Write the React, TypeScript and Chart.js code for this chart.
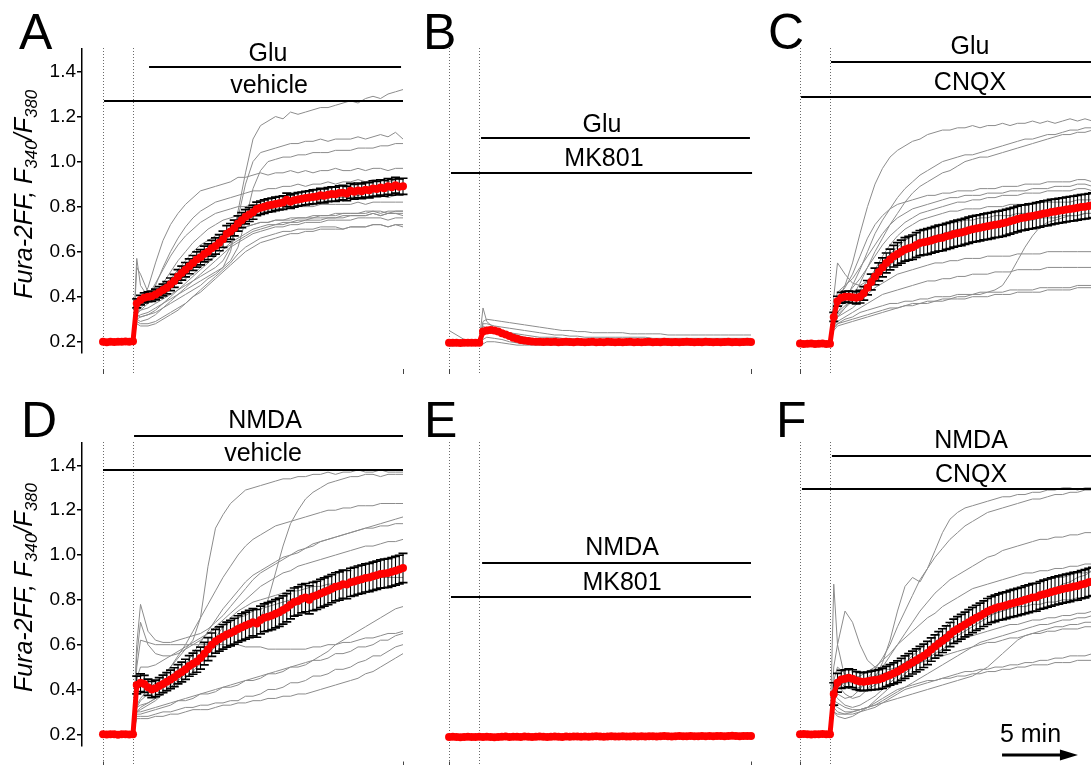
import React, { useEffect, useRef } from "react";
import { Chart, registerables } from "chart.js";
Chart.register(...registerables);

const FONT = '"Liberation Sans", Arial, Helvetica, sans-serif';
const RED = "#ff0000";
const GRAY = "#8c8c8c";

// time of the mean samples (min)
const TM = [0,.25,.5,.75,1,1.25,1.5,1.75,2,
  2.25,2.5,2.75,3,3.25,3.5,3.75,4,4.25,
  4.5,4.75,5,5.25,5.5,5.75,6,6.25,6.5,
  6.75,7,7.25,7.5,7.75,8,8.25,8.5,8.75,
  9,9.25,9.5,9.75,10,10.25,10.5,10.75,11,
  11.25,11.5,11.75,12,12.25,12.5,12.75,13,13.25,
  13.5,13.75,14,14.25,14.5,14.75,15,15.25,15.5,
  15.75,16,16.25,16.5,16.75,17,17.25,17.5,17.75,
  18,18.25,18.5,18.75,19,19.25,19.5,19.75,20];

// time of the single-cell trace samples (min)
const TG = [0,1,2,2.25,2.5,3,3.5,4,4.5,5, 5.5,6,6.5,7,7.5,8,8.5,9,9.5,10, 10.5,11,11.5,12,12.5,13,13.5,14,14.5,15, 15.5,16,16.5,17,17.5,18,18.5,19,19.5,20];

const Y_TICKS = [0.2, 0.4, 0.6, 0.8, 1.0, 1.2, 1.4];

// ---------- Panel A : Glu + vehicle ----------
const A_MEAN = [.2,.198,.2,.199,.2,.2,.201,.2,.202,
  .37,.385,.395,.4,.402,.41,.42,.43,.44,
  .455,.47,.49,.505,.52,.535,.55,.565,.575,
  .59,.6,.615,.625,.64,.655,.68,.69,.705,
  .725,.74,.755,.765,.775,.79,.795,.8,.805,
  .808,.812,.815,.818,.83,.822,.828,.832,.835,
  .838,.84,.843,.845,.85,.848,.853,.856,.855,
  .86,.862,.858,.87,.866,.872,.868,.875,.873,
  .88,.878,.885,.882,.89,.886,.895,.888,.89];
const A_SEM = [.003,.003,.003,.003,.003,.003,.003,.003,.003,
  .02,.021,.022,.022,.023,.024,.025,.026,.027,
  .028,.029,.03,.031,.032,.033,.033,.034,.034,
  .035,.035,.035,.036,.036,.036,.036,.035,.035,
  .034,.033,.032,.031,.031,.03,.03,.03,.03,
  .03,.03,.03,.03,.03,.03,.03,.03,.03,
  .03,.03,.031,.031,.031,.031,.031,.032,.032,
  .032,.032,.032,.033,.033,.033,.033,.033,.034,
  .034,.034,.034,.035,.035,.035,.035,.035,.036];
const A_TRACES = [
  [.2,.2,.21,.33,.34,.35,.37,.39,.41,.43, .45,.47,.49,.51,.53,.56,.62,.78,.95,1.1, 1.16,1.18,1.2,1.19,1.22,1.21,1.22,1.23,1.24,1.24, 1.25,1.26,1.27,1.26,1.28,1.29,1.28,1.3,1.31,1.32],
  [.2,.2,.2,.3,.31,.32,.33,.35,.37,.39, .41,.43,.45,.48,.5,.53,.6,.75,.9,1.0, 1.04,1.05,1.06,1.07,1.08,1.08,1.09,1.09,1.1,1.09, 1.1,1.1,1.1,1.11,1.1,1.11,1.12,1.11,1.13,1.1],
  [.2,.2,.2,.31,.32,.33,.35,.37,.39,.41, .43,.45,.47,.49,.51,.53,.56,.62,.74,.88, .96,1.0,1.01,1.02,1.02,1.03,1.03,1.04,1.04,1.04, 1.05,1.05,1.05,1.06,1.06,1.06,1.07,1.07,1.08,1.08],
  [.2,.2,.2,.36,.38,.44,.55,.65,.72,.77, .81,.84,.87,.88,.89,.9,.91,.93,.93,.94, .95,.94,.95,.95,.96,.95,.96,.95,.96,.96, .97,.96,.96,.97,.96,.97,.97,.96,.97,.97],
  [.2,.2,.2,.33,.35,.38,.45,.53,.6,.66, .71,.75,.78,.8,.82,.83,.84,.85,.86,.87, .87,.88,.88,.89,.89,.9,.89,.9,.9,.91, .9,.91,.91,.92,.91,.92,.92,.91,.92,.92],
  [.2,.2,.2,.34,.36,.4,.46,.52,.58,.63, .67,.7,.73,.75,.77,.78,.79,.8,.8,.81, .81,.82,.82,.82,.83,.82,.83,.83,.83,.84, .84,.84,.84,.85,.84,.85,.85,.84,.85,.85],
  [.2,.2,.2,.32,.34,.37,.41,.46,.51,.56, .6,.64,.67,.7,.72,.74,.75,.76,.77,.78, .78,.79,.79,.79,.8,.8,.8,.8,.81,.81, .81,.81,.81,.82,.81,.82,.82,.82,.82,.82],
  [.2,.21,.21,.57,.45,.4,.42,.45,.48,.52, .56,.6,.63,.65,.67,.68,.69,.7,.71,.72, .73,.73,.74,.74,.75,.75,.75,.76,.76,.76, .77,.77,.77,.77,.78,.78,.78,.77,.78,.78],
  [.2,.2,.2,.53,.5,.42,.41,.42,.44,.46, .48,.5,.53,.56,.58,.61,.63,.65,.67,.69, .7,.71,.72,.72,.73,.73,.74,.74,.74,.75, .75,.75,.76,.76,.76,.77,.76,.77,.77,.77],
  [.2,.19,.19,.28,.27,.27,.28,.3,.32,.34, .37,.4,.43,.46,.49,.52,.55,.59,.62,.64, .66,.67,.68,.69,.69,.7,.7,.7,.71,.71, .71,.7,.71,.71,.71,.72,.72,.71,.72,.71],
  [.2,.2,.2,.3,.29,.3,.32,.35,.38,.41, .44,.47,.5,.53,.56,.59,.62,.64,.66,.68, .69,.7,.71,.71,.72,.72,.73,.73,.73,.74, .74,.74,.74,.75,.75,.75,.75,.74,.75,.75],
  [.2,.2,.2,.32,.31,.32,.34,.37,.4,.43, .46,.49,.52,.55,.58,.61,.64,.66,.68,.7, .71,.72,.72,.73,.73,.74,.74,.75,.75,.75, .75,.76,.76,.76,.76,.77,.76,.77,.77,.76],
  [.21,.2,.2,.35,.37,.38,.4,.42,.45,.48, .52,.55,.58,.61,.63,.66,.68,.7,.71,.72, .73,.73,.74,.74,.74,.75,.75,.75,.76,.76, .76,.77,.77,.77,.77,.78,.77,.78,.78,.78],
  [.2,.2,.2,.29,.28,.28,.29,.31,.33,.35, .37,.4,.42,.45,.48,.51,.54,.57,.6,.62, .64,.65,.66,.67,.68,.68,.69,.69,.7,.7, .7,.7,.71,.71,.71,.72,.72,.71,.72,.72],
];

// ---------- Panel B : Glu + MK801 ----------
const B_MEAN = [.195,.196,.195,.194,.195,.196,.195,.195,.196,
  .245,.25,.252,.25,.245,.238,.232,.225,.218,
  .213,.208,.205,.203,.201,.2,.2,.199,.2,
  .199,.2,.198,.199,.2,.199,.198,.2,.199,
  .198,.199,.2,.198,.199,.198,.2,.199,.198,
  .199,.198,.199,.2,.198,.199,.198,.199,.2,
  .198,.199,.198,.2,.199,.198,.199,.198,.199,
  .2,.199,.198,.199,.198,.2,.199,.198,.199,
  .198,.199,.2,.198,.199,.198,.199,.2,.199];
const B_TRACES = [
  [.2,.2,.2,.35,.29,.26,.25,.24,.235,.23, .225,.22,.22,.22,.215,.215,.21,.21,.21,.21, .21,.21,.21,.21,.21,.21,.21,.21,.21,.21, .21,.21,.21,.21,.21,.21,.21,.21,.21,.21],
  [.25,.21,.2,.29,.3,.295,.29,.285,.28,.275, .27,.265,.26,.255,.25,.25,.245,.245,.24,.24, .24,.24,.24,.235,.235,.235,.235,.235,.23,.23, .23,.23,.23,.23,.23,.23,.23,.23,.23,.23],
  [.2,.2,.2,.28,.28,.27,.265,.26,.255,.25, .245,.24,.235,.23,.23,.225,.225,.22,.22,.22, .22,.22,.22,.22,.22,.22,.215,.215,.215,.215, .215,.215,.215,.215,.215,.215,.215,.215,.215,.215],
  [.19,.19,.19,.26,.265,.26,.25,.24,.23,.22, .215,.21,.21,.205,.205,.2,.2,.2,.2,.2, .2,.2,.2,.2,.2,.2,.2,.2,.2,.2, .2,.2,.2,.2,.2,.2,.2,.2,.2,.2],
  [.19,.19,.19,.27,.26,.245,.235,.225,.215,.21, .205,.2,.2,.2,.2,.2,.2,.2,.2,.2, .2,.2,.2,.2,.2,.2,.2,.2,.2,.2, .2,.2,.2,.2,.2,.2,.2,.2,.2,.2],
  [.19,.19,.19,.21,.22,.215,.21,.2,.195,.19, .19,.19,.19,.19,.19,.19,.19,.19,.19,.19, .19,.19,.19,.19,.19,.19,.19,.19,.19,.19, .19,.19,.19,.19,.19,.19,.19,.19,.19,.19],
  [.18,.185,.185,.19,.2,.2,.195,.19,.185,.185, .185,.185,.185,.185,.185,.185,.185,.185,.185,.185, .185,.185,.185,.185,.185,.185,.185,.185,.185,.185, .185,.185,.185,.185,.185,.185,.185,.185,.185,.185],
  [.19,.19,.19,.24,.25,.24,.23,.22,.21,.2, .195,.195,.195,.195,.195,.195,.195,.195,.195,.195, .195,.195,.195,.195,.195,.195,.195,.195,.195,.195, .195,.195,.195,.195,.195,.195,.195,.195,.195,.195],
];

// ---------- Panel C : Glu + CNQX ----------
const C_MEAN = [.192,.19,.191,.192,.19,.191,.192,.19,.191,
  .31,.38,.395,.4,.4,.398,.395,.4,.415,
  .44,.465,.49,.51,.53,.55,.565,.58,.59,
  .6,.61,.615,.62,.63,.638,.642,.645,.65,
  .655,.66,.662,.668,.672,.678,.682,.685,.69,
  .695,.7,.703,.706,.71,.713,.716,.72,.722,
  .726,.73,.735,.74,.745,.75,.752,.756,.758,
  .762,.765,.77,.772,.776,.778,.782,.784,.787,
  .79,.792,.795,.798,.8,.803,.806,.806,.81];
const C_SEM = [.003,.003,.003,.003,.003,.003,.003,.003,.003,
  .02,.022,.024,.024,.025,.026,.027,.028,.03,
  .032,.035,.037,.04,.042,.044,.046,.048,.05,
  .051,.052,.053,.054,.055,.056,.056,.057,.057,
  .057,.058,.058,.058,.058,.058,.058,.058,.058,
  .058,.058,.058,.058,.058,.058,.058,.058,.058,
  .058,.058,.057,.057,.057,.057,.056,.056,.056,
  .056,.056,.056,.056,.056,.055,.055,.055,.055,
  .055,.055,.055,.055,.055,.055,.055,.055,.055];
const C_TRACES = [
  [.19,.19,.19,.3,.38,.45,.55,.68,.8,.9, .97,1.02,1.05,1.07,1.09,1.1,1.12,1.13,1.14,1.14, 1.15,1.15,1.16,1.15,1.16,1.16,1.17,1.16,1.17,1.17, 1.18,1.17,1.18,1.17,1.18,1.19,1.18,1.19,1.18,1.19],
  [.19,.19,.19,.28,.33,.38,.45,.52,.6,.68, .74,.79,.84,.88,.91,.94,.96,.98,1.0,1.01, 1.02,1.03,1.03,1.04,1.05,1.06,1.07,1.08,1.09,1.1, 1.1,1.11,1.12,1.12,1.13,1.14,1.14,1.15,1.15,1.16],
  [.19,.19,.19,.27,.31,.35,.4,.46,.53,.6, .66,.72,.77,.82,.86,.89,.91,.93,.95,.96, .98,1.0,1.01,1.02,1.02,1.03,1.04,1.05,1.06,1.07, 1.08,1.09,1.1,1.11,1.12,1.12,1.13,1.13,1.14,1.14],
  [.19,.19,.19,.32,.4,.44,.5,.58,.66,.72, .76,.79,.81,.82,.83,.84,.85,.85,.86,.86, .87,.87,.87,.88,.88,.88,.89,.89,.89,.9, .9,.9,.91,.91,.91,.91,.92,.92,.91,.92],
  [.19,.19,.19,.35,.42,.45,.48,.53,.58,.63, .68,.72,.75,.77,.79,.8,.81,.82,.83,.84, .84,.85,.85,.85,.86,.86,.86,.87,.87,.87, .88,.88,.88,.89,.89,.89,.9,.9,.89,.9],
  [.19,.19,.19,.3,.36,.4,.44,.48,.53,.58, .63,.67,.7,.73,.75,.77,.78,.79,.8,.81, .82,.82,.83,.83,.84,.84,.85,.85,.85,.86, .86,.86,.87,.87,.87,.87,.88,.88,.87,.88],
  [.19,.19,.19,.29,.33,.36,.39,.43,.47,.51, .55,.59,.62,.65,.67,.69,.7,.71,.72,.73, .73,.74,.74,.75,.75,.76,.76,.76,.77,.77, .77,.78,.78,.78,.79,.79,.79,.8,.8,.8],
  [.19,.19,.19,.26,.28,.29,.3,.31,.32,.33, .34,.35,.35,.36,.37,.37,.38,.38,.39,.39, .4,.4,.41,.41,.42,.43,.45,.5,.56,.62, .67,.71,.73,.74,.75,.76,.76,.77,.77,.77],
  [.19,.19,.19,.27,.32,.35,.38,.41,.45,.48, .51,.54,.57,.6,.62,.64,.66,.67,.68,.69, .7,.7,.71,.71,.72,.72,.73,.73,.73,.74, .74,.75,.75,.75,.76,.76,.76,.77,.77,.77],
  [.19,.19,.19,.28,.31,.33,.35,.38,.41,.44, .46,.48,.5,.51,.52,.53,.54,.55,.55,.56, .56,.57,.57,.57,.58,.58,.58,.58,.59,.59, .59,.59,.6,.6,.6,.6,.6,.6,.6,.6],
  [.19,.19,.19,.27,.29,.31,.33,.35,.37,.39, .41,.42,.43,.44,.45,.46,.47,.47,.48,.48, .49,.49,.5,.5,.5,.51,.51,.51,.52,.52, .52,.52,.53,.53,.53,.53,.53,.53,.53,.53],
  [.19,.19,.19,.26,.28,.3,.31,.33,.34,.35, .36,.37,.37,.38,.38,.39,.39,.4,.4,.4, .41,.41,.41,.42,.42,.42,.42,.43,.43,.43, .43,.44,.44,.44,.44,.44,.45,.45,.45,.45],
  [.19,.19,.19,.25,.27,.28,.29,.3,.31,.32, .33,.34,.35,.36,.36,.37,.37,.38,.38,.39, .39,.39,.4,.4,.4,.41,.41,.41,.42,.42, .42,.42,.43,.43,.43,.43,.44,.44,.44,.44],
  [.19,.19,.19,.4,.55,.5,.46,.45,.47,.52, .58,.63,.67,.7,.72,.74,.75,.76,.77,.78, .78,.79,.79,.79,.8,.8,.8,.81,.81,.81, .81,.82,.82,.82,.82,.82,.83,.83,.83,.83],
];

// ---------- Panel D : NMDA + vehicle ----------
const D_MEAN = [.2,.199,.2,.2,.198,.2,.2,.199,.2,
  .42,.43,.425,.41,.4,.405,.415,.425,.435,
  .445,.455,.468,.478,.49,.505,.515,.525,.54,
  .56,.58,.6,.615,.625,.635,.645,.652,.66,
  .67,.678,.685,.692,.7,.695,.71,.72,.725,
  .73,.738,.745,.755,.765,.778,.79,.795,.805,
  .81,.8,.815,.82,.828,.835,.842,.85,.858,
  .862,.87,.868,.878,.882,.888,.892,.898,.9,
  .905,.91,.915,.918,.92,.925,.93,.935,.942];
const D_SEM = [.003,.003,.003,.003,.003,.003,.003,.003,.003,
  .04,.04,.038,.036,.036,.037,.038,.039,.04,
  .041,.042,.043,.044,.045,.046,.047,.048,.049,
  .05,.051,.052,.053,.054,.055,.056,.057,.058,
  .059,.06,.06,.061,.061,.062,.062,.062,.063,
  .063,.063,.063,.063,.063,.063,.063,.063,.063,
  .063,.063,.063,.063,.063,.063,.063,.063,.063,
  .063,.063,.063,.063,.063,.063,.063,.063,.063,
  .063,.063,.063,.064,.064,.064,.064,.064,.065];
const D_TRACES = [
  [.2,.2,.2,.33,.36,.4,.43,.46,.5,.54, .58,.62,.72,.95,1.12,1.18,1.23,1.26,1.29,1.3, 1.31,1.32,1.33,1.34,1.34,1.35,1.35,1.36,1.36,1.37, 1.36,1.37,1.37,1.38,1.37,1.37,1.38,1.37,1.37,1.37],
  [.2,.2,.2,.3,.32,.34,.36,.38,.41,.44, .47,.5,.53,.56,.59,.62,.64,.66,.68,.7, .72,.8,.92,1.04,1.14,1.2,1.25,1.28,1.3,1.32, 1.33,1.34,1.35,1.35,1.36,1.36,1.35,1.36,1.36,1.36],
  [.2,.2,.2,.32,.35,.38,.42,.46,.5,.55, .6,.66,.72,.78,.84,.9,.95,1.0,1.04,1.07, 1.09,1.11,1.13,1.14,1.15,1.16,1.17,1.18,1.19,1.2, 1.2,1.21,1.21,1.22,1.22,1.22,1.23,1.23,1.23,1.23],
  [.2,.2,.2,.3,.31,.33,.35,.38,.42,.46, .51,.56,.61,.66,.71,.76,.8,.84,.88,.91, .93,.95,.97,.99,1.0,1.02,1.03,1.05,1.06,1.07, 1.08,1.09,1.1,1.11,1.12,1.13,1.14,1.15,1.16,1.17],
  [.2,.2,.2,.6,.78,.66,.62,.61,.61,.62, .63,.64,.65,.67,.7,.73,.77,.81,.85,.89, .92,.94,.96,.98,1.0,1.01,1.03,1.04,1.06,1.07, 1.08,1.09,1.1,1.11,1.12,1.12,1.13,1.13,1.14,1.14],
  [.2,.2,.2,.55,.7,.6,.56,.55,.55,.56, .58,.6,.62,.65,.68,.71,.74,.77,.8,.83, .86,.88,.9,.92,.93,.95,.96,.97,.98,.99, 1.0,1.01,1.02,1.03,1.04,1.04,1.05,1.06,1.06,1.07],
  [.2,.2,.2,.3,.3,.31,.32,.33,.34,.35, .36,.37,.38,.39,.4,.41,.42,.43,.44,.45, .46,.47,.48,.49,.5,.51,.52,.53,.55,.57, .6,.62,.64,.66,.68,.7,.72,.74,.76,.77],
  [.2,.2,.2,.32,.33,.34,.36,.38,.4,.42, .45,.48,.52,.57,.63,.68,.72,.75,.77,.79, .8,.81,.82,.83,.84,.84,.85,.86,.86,.87, .87,.88,.88,.89,.89,.89,.9,.9,.9,.9],
  [.2,.2,.2,.5,.62,.61,.6,.6,.6,.6, .6,.6,.6,.6,.6,.6,.6,.6,.59,.59, .59,.58,.58,.58,.58,.58,.58,.59,.59,.6, .6,.61,.61,.62,.63,.63,.64,.65,.65,.66],
  [.2,.2,.2,.29,.29,.3,.31,.32,.33,.35, .35,.36,.38,.38,.39,.41,.41,.42,.44,.44, .45,.47,.47,.48,.5,.5,.51,.53,.53,.54, .56,.56,.57,.59,.59,.6,.62,.62,.64,.65],
  [.2,.2,.2,.28,.28,.28,.29,.3,.3,.31, .32,.32,.33,.33,.34,.34,.35,.35,.37,.37, .38,.4,.4,.41,.43,.43,.44,.46,.46,.47, .49,.49,.5,.52,.53,.55,.55,.57,.59,.6],
  [.2,.2,.2,.27,.27,.27,.28,.28,.29,.29, .3,.31,.31,.31,.32,.33,.33,.34,.34,.35, .35,.36,.36,.37,.37,.38,.38,.39,.4,.41, .42,.43,.44,.45,.47,.48,.5,.52,.54,.56],
  [.2,.2,.2,.45,.5,.5,.51,.53,.55,.57, .59,.61,.63,.65,.67,.69,.7,.72,.73,.75, .76,.77,.78,.79,.8,.81,.82,.83,.84,.85, .86,.87,.88,.89,.9,.9,.91,.92,.93,.94],
];

// ---------- Panel E : NMDA + MK801 ----------
const E_MEAN = [.188,.189,.188,.187,.188,.189,.188,.188,.189,
  .188,.189,.188,.187,.188,.189,.19,.188,.189,
  .189,.188,.19,.189,.188,.189,.19,.189,.188,
  .189,.19,.189,.188,.19,.189,.19,.19,.189,
  .19,.189,.19,.191,.19,.189,.19,.191,.19,
  .19,.191,.19,.19,.191,.19,.191,.19,.191,
  .191,.19,.191,.192,.191,.19,.191,.192,.191,
  .191,.192,.191,.191,.192,.191,.192,.191,.192,
  .192,.191,.192,.193,.192,.191,.192,.192,.192];
const E_TRACES = [
  [.196,.196,.196,.197,.197,.197,.197,.197,.198,.198, .198,.198,.198,.198,.199,.199,.199,.199,.199,.2, .2,.2,.2,.2,.2,.201,.201,.201,.201,.202, .202,.202,.202,.203,.203,.203,.204,.204,.205,.205],
  [.185,.185,.184,.185,.185,.185,.184,.185,.185,.185, .186,.185,.186,.186,.186,.186,.186,.187,.186,.187, .187,.187,.187,.188,.187,.188,.188,.188,.188,.189, .188,.189,.189,.189,.19,.189,.19,.19,.19,.19],
  [.19,.19,.19,.19,.191,.191,.19,.191,.191,.191, .191,.192,.191,.192,.192,.192,.192,.193,.193,.193, .193,.194,.193,.194,.194,.194,.195,.195,.195,.195, .196,.196,.196,.196,.197,.197,.197,.197,.198,.198],
  [.182,.182,.182,.182,.183,.182,.183,.183,.183,.183, .183,.184,.183,.184,.184,.184,.184,.184,.185,.185, .185,.185,.185,.185,.186,.186,.186,.186,.186,.186, .187,.187,.187,.187,.187,.187,.188,.188,.188,.188],
  [.193,.193,.192,.193,.193,.193,.194,.193,.194,.194, .194,.194,.195,.195,.195,.195,.196,.196,.196,.196, .197,.197,.197,.197,.198,.198,.198,.198,.199,.199, .199,.2,.2,.2,.2,.201,.201,.201,.202,.202],
];

// ---------- Panel F : NMDA + CNQX ----------
const F_MEAN = [.2,.201,.2,.199,.2,.2,.201,.2,.2,
  .38,.43,.445,.448,.452,.448,.44,.436,.435,
  .437,.44,.442,.445,.45,.458,.465,.472,.48,
  .49,.5,.51,.52,.53,.54,.55,.563,.578,
  .592,.605,.618,.63,.645,.66,.67,.68,.69,
  .7,.71,.72,.728,.738,.748,.756,.762,.768,
  .772,.776,.782,.786,.79,.795,.8,.805,.81,
  .812,.82,.825,.83,.835,.84,.844,.848,.852,
  .855,.86,.862,.868,.872,.878,.882,.888,.892];
const F_SEM = [.003,.003,.003,.003,.003,.003,.003,.003,.003,
  .05,.042,.04,.04,.04,.04,.04,.04,.04,
  .041,.042,.043,.044,.045,.045,.046,.047,.048,
  .049,.05,.05,.051,.051,.052,.052,.052,.052,
  .052,.053,.053,.054,.054,.054,.055,.055,.055,
  .056,.056,.056,.057,.057,.058,.058,.059,.059,
  .06,.06,.06,.061,.061,.061,.062,.062,.062,
  .062,.062,.063,.063,.063,.063,.063,.063,.063,
  .063,.063,.063,.063,.063,.063,.063,.063,.063];
const F_TRACES = [
  [.2,.2,.2,.4,.42,.38,.36,.37,.4,.45, .52,.62,.75,.86,.9,.88,.94,1.02,1.1,1.16, 1.19,1.21,1.22,1.23,1.24,1.25,1.26,1.26,1.27,1.27, 1.28,1.28,1.29,1.29,1.3,1.3,1.29,1.3,1.3,1.3],
  [.2,.2,.2,.35,.38,.36,.37,.4,.45,.49, .54,.6,.68,.75,.82,.89,.94,.99,1.03,1.07, 1.1,1.13,1.15,1.17,1.19,1.2,1.21,1.22,1.23,1.24, 1.25,1.25,1.26,1.27,1.27,1.28,1.28,1.29,1.29,1.29],
  [.2,.2,.2,.42,.45,.41,.4,.41,.43,.46, .5,.55,.6,.65,.7,.75,.79,.83,.86,.89, .91,.93,.95,.97,.99,1.0,1.02,1.03,1.04,1.05, 1.06,1.07,1.07,1.08,1.08,1.09,1.09,1.1,1.1,1.1],
  [.2,.2,.2,.87,.6,.45,.4,.39,.4,.42, .44,.47,.5,.52,.55,.58,.61,.64,.67,.7, .72,.74,.76,.78,.8,.82,.83,.84,.85,.86, .87,.88,.89,.9,.9,.91,.92,.92,.93,.93],
  [.2,.2,.2,.5,.6,.75,.7,.6,.53,.5, .49,.49,.5,.51,.52,.54,.56,.58,.6,.62, .64,.66,.68,.7,.72,.74,.75,.77,.78,.8, .81,.83,.84,.85,.87,.88,.9,.91,.93,.96],
  [.2,.2,.2,.38,.36,.33,.32,.33,.35,.37, .4,.43,.46,.49,.52,.55,.58,.61,.64,.66, .68,.7,.71,.72,.73,.74,.75,.76,.77,.77, .78,.78,.79,.79,.8,.8,.81,.81,.82,.82],
  [.2,.2,.2,.35,.34,.32,.31,.31,.32,.33, .35,.37,.39,.41,.43,.45,.47,.49,.51,.53, .55,.57,.59,.61,.62,.63,.64,.65,.66,.67, .68,.69,.69,.7,.71,.71,.72,.72,.73,.73],
  [.2,.2,.2,.33,.32,.3,.3,.31,.32,.33, .34,.35,.36,.37,.38,.39,.4,.41,.42,.43, .44,.45,.46,.48,.5,.53,.56,.59,.62,.64, .65,.66,.67,.68,.68,.69,.69,.7,.7,.7],
  [.2,.2,.2,.4,.42,.43,.43,.44,.45,.46, .47,.48,.49,.5,.51,.52,.53,.54,.55,.56, .57,.58,.59,.6,.61,.61,.62,.63,.63,.64, .65,.65,.66,.66,.67,.67,.67,.68,.68,.68],
  [.2,.2,.2,.32,.3,.29,.29,.3,.31,.32, .34,.36,.38,.4,.41,.42,.43,.44,.45,.46, .47,.48,.48,.49,.49,.5,.5,.51,.51,.52, .52,.53,.53,.54,.54,.55,.55,.55,.56,.56],
  [.2,.2,.2,.3,.29,.29,.3,.31,.32,.34, .36,.38,.4,.41,.42,.43,.44,.44,.45,.45, .46,.46,.47,.47,.48,.48,.49,.49,.5,.5, .51,.51,.51,.52,.52,.52,.53,.53,.53,.53],
  [.2,.2,.2,.44,.5,.47,.45,.46,.48,.5, .53,.56,.6,.63,.66,.69,.72,.74,.77,.79, .81,.83,.85,.86,.87,.88,.89,.9,.91,.92, .92,.93,.93,.94,.94,.95,.95,.96,.96,.96],
  [.2,.2,.2,.3,.28,.27,.28,.3,.32,.35, .38,.41,.44,.47,.5,.52,.54,.56,.58,.6, .62,.63,.64,.65,.66,.67,.68,.69,.69,.7, .71,.71,.72,.72,.73,.73,.74,.74,.75,.75],
];

// ---------- layout (page pixels) ----------
const CW = 1110, CH = 765;
const X_MIN = -1.4, X_MAX = 20, Y_MIN = 0.15, Y_MAX = 1.5;
const ROWS = [{ top: 49, bottom: 353 }, { top: 443, bottom: 745.5 }];
const COLS = [{ left: 82, right: 403, axis: true }, { left: 427.9, right: 751, axis: false }, { left: 779, right: 1100, axis: false }];
const DOTTED_T = [0, 2];
const LABEL_FONT = "25px " + FONT;

const PANELS: any[] = [
  { row: 0, col: 0, mean: A_MEAN, sem: A_SEM, traces: A_TRACES, letter: { text: "A", x: 19, y: 49 },
    labels: [{ text: "Glu", t: 11.0, v: 1.447 }, { text: "vehicle", t: 11.07, v: 1.305 }],
    bars: [{ t1: 3.07, t2: 19.87, v: 1.421 }, { t1: 0.07, t2: 20, v: 1.267 }] },
  { row: 0, col: 1, mean: B_MEAN, sem: null, traces: B_TRACES, letter: { text: "B", x: 423, y: 49 },
    labels: [{ text: "Glu", t: 10.13, v: 1.131 }, { text: "MK801", t: 10.26, v: 0.98 }],
    bars: [{ t1: 2.12, t2: 19.93, v: 1.106 }, { t1: 0.13, t2: 20.07, v: 0.948 }] },
  { row: 0, col: 2, mean: C_MEAN, sem: C_SEM, traces: C_TRACES, letter: { text: "C", x: 768, y: 49 },
    labels: [{ text: "Glu", t: 11.33, v: 1.478 }, { text: "CNQX", t: 11.33, v: 1.318 }],
    bars: [{ t1: 2.07, t2: 21, v: 1.444 }, { t1: 0.07, t2: 21, v: 1.288 }] },
  { row: 1, col: 0, mean: D_MEAN, sem: D_SEM, traces: D_TRACES, letter: { text: "D", x: 21, y: 437 },
    labels: [{ text: "NMDA", t: 10.8, v: 1.567 }, { text: "vehicle", t: 10.67, v: 1.42 }],
    bars: [{ t1: 2.07, t2: 20, v: 1.531 }, { t1: 0, t2: 20, v: 1.38 }] },
  { row: 1, col: 1, mean: E_MEAN, sem: null, traces: E_TRACES, letter: { text: "E", x: 424, y: 437 },
    labels: [{ text: "NMDA", t: 11.46, v: 1.0 }, { text: "MK801", t: 11.46, v: 0.844 }],
    bars: [{ t1: 2.19, t2: 20, v: 0.966 }, { t1: 0.13, t2: 20, v: 0.814 }] },
  { row: 1, col: 2, mean: F_MEAN, sem: F_SEM, traces: F_TRACES, letter: { text: "F", x: 776, y: 437 },
    labels: [{ text: "NMDA", t: 11.4, v: 1.478 }, { text: "CNQX", t: 11.4, v: 1.326 }],
    bars: [{ t1: 2.13, t2: 21, v: 1.443 }, { t1: 0.13, t2: 21, v: 1.295 }],
    scaleBar: { text: "5 min", textT: 13.33, textV: 0.166, t1: 13.47, t2: 18.53, v: 0.108 } },
];

function drawYTitle(ctx: CanvasRenderingContext2D, x: number, cy: number) {
  const big = "italic 25px " + FONT;
  const small = "italic 17px " + FONT;
  const parts: [string, string, number][] = [["Fura-2FF, F", big, 0], ["340", small, 5], ["/F", big, 0], ["380", small, 5]];
  let w = 0;
  for (const [s, f] of parts) { ctx.font = f; w += ctx.measureText(s).width; }
  ctx.save();
  ctx.translate(x, cy);
  ctx.rotate(-Math.PI / 2);
  ctx.fillStyle = "#000";
  ctx.textAlign = "left";
  ctx.textBaseline = "alphabetic";
  let cx = -w / 2;
  for (const [s, f, dy] of parts) { ctx.font = f; ctx.fillText(s, cx, dy); cx += ctx.measureText(s).width; }
  ctx.restore();
}

function makeDecor(p: any, idx: number) {
  return {
    id: "decor" + idx,
    beforeDatasetsDraw(chart: any) {
      const { ctx, chartArea: ca } = chart;
      const xs = chart.scales.x;
      ctx.save();
      ctx.strokeStyle = "#6a6a6a";
      ctx.lineWidth = 1;
      ctx.setLineDash([1, 2]);
      for (const t of DOTTED_T) {
        const px = Math.round(xs.getPixelForValue(t)) + 0.5;
        ctx.beginPath(); ctx.moveTo(px, ca.top - 1); ctx.lineTo(px, ca.bottom + 20); ctx.stroke();
      }
      ctx.setLineDash([]);
      ctx.strokeStyle = "#444";
      for (const t of [0, 20]) {
        const px = Math.round(xs.getPixelForValue(t)) + 0.5;
        ctx.beginPath(); ctx.moveTo(px, ca.bottom + 16); ctx.lineTo(px, ca.bottom + 21); ctx.stroke();
      }
      ctx.restore();
    },
    beforeDatasetDraw(chart: any, args: any) {
      if (args.index !== 0 || !p.sem) return;
      const { ctx } = chart;
      const xs = chart.scales.x, ys = chart.scales.y;
      ctx.save();
      ctx.strokeStyle = "#000";
      for (let i = 0; i < TM.length; i++) {
        const m = p.mean[i], s = p.sem[i];
        if (m === undefined || s === undefined || s < 0.01) continue;
        const px = xs.getPixelForValue(TM[i]);
        const y1 = ys.getPixelForValue(m + s), y2 = ys.getPixelForValue(m - s);
        ctx.lineWidth = 1.1;
        ctx.beginPath(); ctx.moveTo(px, y1); ctx.lineTo(px, y2); ctx.stroke();
        ctx.lineWidth = 1.7;
        ctx.beginPath();
        ctx.moveTo(px - 4.5, y1); ctx.lineTo(px + 4.5, y1);
        ctx.moveTo(px - 4.5, y2); ctx.lineTo(px + 4.5, y2);
        ctx.stroke();
      }
      ctx.restore();
    },
    afterDraw(chart: any) {
      const { ctx } = chart;
      const xs = chart.scales.x, ys = chart.scales.y;
      ctx.save();
      ctx.fillStyle = "#000";
      ctx.strokeStyle = "#000";
      ctx.font = "50px " + FONT;
      ctx.textAlign = "left";
      ctx.textBaseline = "alphabetic";
      ctx.fillText(p.letter.text, p.letter.x, p.letter.y);
      ctx.font = LABEL_FONT;
      ctx.textAlign = "center";
      for (const l of p.labels) ctx.fillText(l.text, xs.getPixelForValue(l.t), ys.getPixelForValue(l.v));
      ctx.lineWidth = 2;
      for (const b of p.bars) {
        const py = Math.round(ys.getPixelForValue(b.v));
        ctx.beginPath(); ctx.moveTo(xs.getPixelForValue(b.t1), py); ctx.lineTo(xs.getPixelForValue(b.t2), py); ctx.stroke();
      }
      if (COLS[p.col].axis) drawYTitle(ctx, 32, ys.getPixelForValue(0.855));
      if (p.scaleBar) {
        const sb = p.scaleBar;
        ctx.font = LABEL_FONT;
        ctx.textAlign = "left";
        ctx.fillText(sb.text, xs.getPixelForValue(sb.textT), ys.getPixelForValue(sb.textV));
        const x1 = xs.getPixelForValue(sb.t1), x2 = xs.getPixelForValue(sb.t2), py = ys.getPixelForValue(sb.v);
        ctx.lineWidth = 3;
        ctx.beginPath(); ctx.moveTo(x1, py); ctx.lineTo(x2 - 14, py); ctx.stroke();
        ctx.beginPath(); ctx.moveTo(x2, py); ctx.lineTo(x2 - 18, py - 5.5); ctx.lineTo(x2 - 18, py + 5.5); ctx.closePath(); ctx.fill();
      }
      ctx.restore();
    },
  };
}

function buildConfig(p: any, idx: number): any {
  const row = ROWS[p.row], col = COLS[p.col];
  const datasets: any[] = [
    {
      data: TM.map((t, i) => ({ x: t, y: p.mean[i] })).filter((d) => d.y !== undefined),
      borderColor: RED, backgroundColor: RED, borderWidth: 5,
      pointRadius: 4, pointHoverRadius: 4, pointBackgroundColor: RED, pointBorderWidth: 0,
      clip: 12,
    },
    ...p.traces.map((tr: number[]) => ({
      data: TG.map((t, i) => ({ x: t, y: tr[i] })).filter((d) => d.y !== undefined),
      borderColor: GRAY, borderWidth: 1, pointRadius: 0, pointHoverRadius: 0, clip: 12,
    })),
  ];
  const yScale: any = {
    type: "linear", display: col.axis, min: Y_MIN, max: Y_MAX,
    afterBuildTicks: (s: any) => { s.ticks = Y_TICKS.map((v) => ({ value: v })); },
    ticks: { callback: (v: any) => Number(v).toFixed(1), color: "#000", font: { size: 19, family: FONT }, padding: 1 },
    grid: { display: true, drawOnChartArea: false, drawTicks: true, tickLength: 5, color: "#000", lineWidth: 1.5 },
    border: { display: true, color: "#000", width: 1.5 },
  };
  if (col.axis) yScale.afterFit = (s: any) => { s.width = col.left; };
  return {
    type: "line",
    data: { datasets },
    options: {
      animation: false,
      responsive: false,
      devicePixelRatio: 1,
      events: [],
      parsing: false,
      layout: { padding: { left: col.axis ? 0 : col.left, right: CW - col.right, top: row.top, bottom: CH - row.bottom } },
      plugins: { legend: { display: false }, tooltip: { enabled: false }, title: { display: false } },
      elements: { line: { tension: 0 } },
      scales: {
        x: { type: "linear", display: false, min: X_MIN, max: X_MAX },
        y: yScale,
      },
    },
    plugins: [makeDecor(p, idx)],
  };
}

export default function App() {
  const refs = useRef<(HTMLCanvasElement | null)[]>([]);
  useEffect(() => {
    Chart.defaults.font.family = FONT;
    const charts = PANELS.map((p, i) => new Chart(refs.current[i] as HTMLCanvasElement, buildConfig(p, i)));
    return () => { charts.forEach((c) => c.destroy()); };
  }, []);
  return (
    <div style={{ position: "fixed", left: 0, top: 0, width: 1091, height: 765, overflow: "hidden", background: "#fff" }}>
      {PANELS.map((_, i) => (
        <canvas
          key={i}
          ref={(el) => { refs.current[i] = el; }}
          width={CW}
          height={CH}
          style={{ position: "absolute", left: 0, top: 0, width: CW, height: CH }}
        />
      ))}
    </div>
  );
}
